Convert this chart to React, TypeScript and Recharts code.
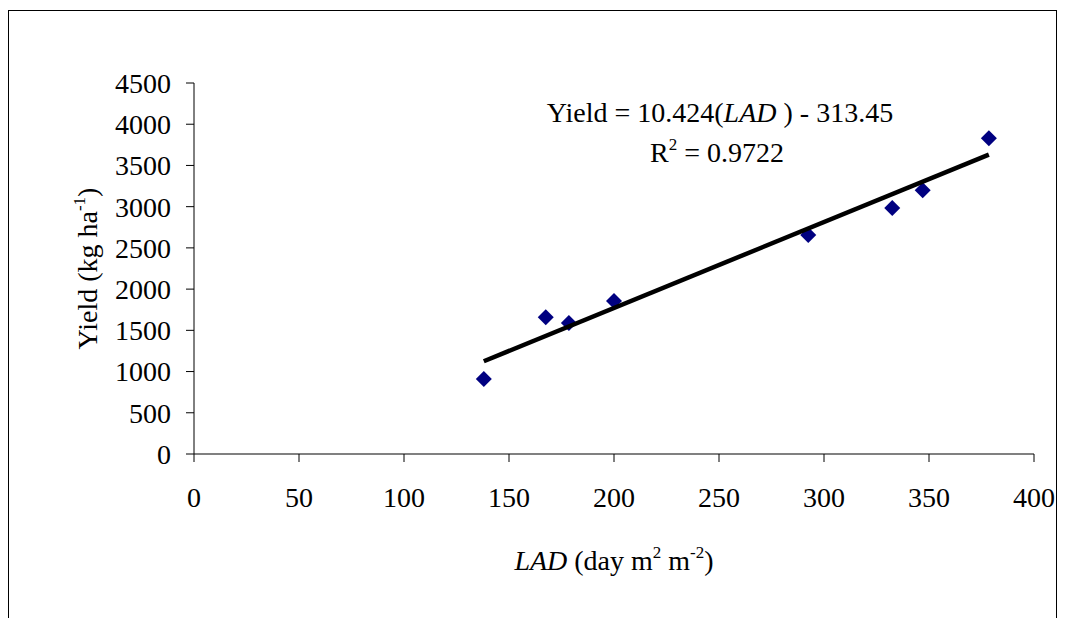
import React from 'react';
import { ScatterChart, Scatter, XAxis, YAxis } from 'recharts';

// LAD (day m2 m-2) vs grain yield (kg/ha)
const lad = [138, 167.5, 178.5, 200, 292.5, 332.5, 347, 378.5];
const yieldKg = [910, 1660, 1590, 1855, 2655, 2985, 3200, 3830];

// fitted trend line end points
const trendLad = [138, 378.5];
const trendYield = [1125, 3632];

const xTicks = [0, 50, 100, 150, 200, 250, 300, 350, 400];
const yTicks = [0, 500, 1000, 1500, 2000, 2500, 3000, 3500, 4000, 4500];

const points = lad.map((x, i) => ({ x, y: yieldKg[i] }));
const trend = trendLad.map((x, i) => ({ x, y: trendYield[i] }));

const FONT = "'Liberation Serif', 'Times New Roman', serif";
const FS = 28;
const SUP = 17;

const Diamond = (props: any) => {
    const { cx, cy } = props;
    const r = 8;
    return (
        <polygon
            points={`${cx},${cy - r} ${cx + r},${cy} ${cx},${cy + r} ${cx - r},${cy}`}
            fill="#000080"
        />
    );
};

const XLabel = (props: any) => {
    const { viewBox } = props;
    const cx = viewBox.x + viewBox.width / 2;
    return (
        <text x={cx} y={viewBox.y + 116} textAnchor="middle" style={{ fontFamily: FONT, fontSize: FS }} fill="#000">
            <tspan fontStyle="italic">LAD</tspan>
            <tspan>{'  (day m'}</tspan>
            <tspan dy={-12} fontSize={SUP}>2</tspan>
            <tspan dy={12}> m</tspan>
            <tspan dy={-12} fontSize={SUP}>-2</tspan>
            <tspan dy={12}>)</tspan>
        </text>
    );
};

const YLabel = (props: any) => {
    const { viewBox } = props;
    const cy = viewBox.y + viewBox.height / 2;
    const cx = 88;
    return (
        <text
            x={cx}
            y={cy}
            textAnchor="middle"
            transform={`rotate(-90, ${cx}, ${cy})`}
            style={{ fontFamily: FONT, fontSize: FS }}
            fill="#000"
        >
            <tspan>Yield (kg ha</tspan>
            <tspan dy={-12} fontSize={SUP}>-1</tspan>
            <tspan dy={12}>)</tspan>
        </text>
    );
};

const App: React.FC = () => {
    return (
        <div
            style={{
                position: 'relative',
                marginTop: 2,
                width: 1049,
                height: 608,
                boxSizing: 'border-box',
                borderTop: '1px solid #000',
                borderLeft: '1px solid #000',
                borderRight: '1px solid #000',
                background: '#fff',
                fontFamily: FONT,
            }}
        >
            <ScatterChart width={1047} height={607} margin={{ top: 72, right: 22, bottom: 104, left: 0 }}>
                <XAxis
                    type="number"
                    dataKey="x"
                    domain={[0, 400]}
                    ticks={xTicks}
                    interval={0}
                    height={60}
                    axisLine={{ stroke: '#808080', strokeWidth: 2 }}
                    tickLine={{ stroke: '#000' }}
                    tickSize={8}
                    tickMargin={25}
                    tick={{ fill: '#000', style: { fontFamily: FONT, fontSize: FS } }}
                    label={<XLabel />}
                />
                <YAxis
                    type="number"
                    dataKey="y"
                    domain={[0, 4500]}
                    ticks={yTicks}
                    interval={0}
                    width={185}
                    axisLine={{ stroke: '#000' }}
                    tickLine={{ stroke: '#000' }}
                    tickSize={8}
                    tickMargin={15}
                    tick={{ fill: '#000', style: { fontFamily: FONT, fontSize: FS } }}
                    label={<YLabel />}
                />
                <Scatter data={points} shape={<Diamond />} isAnimationActive={false} />
                <Scatter
                    data={trend}
                    line={{ stroke: '#000', strokeWidth: 4.5 }}
                    shape={() => <g />}
                    isAnimationActive={false}
                />
            </ScatterChart>
            <svg
                width={1047}
                height={607}
                style={{ position: 'absolute', left: 0, top: 0, pointerEvents: 'none' }}
            >
                <text x={711} y={111} textAnchor="middle" style={{ fontFamily: FONT, fontSize: FS }} fill="#000">
                    <tspan>Yield = 10.424(</tspan>
                    <tspan fontStyle="italic">LAD </tspan>
                    <tspan>) - 313.45</tspan>
                </text>
                <text x={708} y={151} textAnchor="middle" style={{ fontFamily: FONT, fontSize: FS }} fill="#000">
                    <tspan>R</tspan>
                    <tspan dy={-12} fontSize={SUP}>2</tspan>
                    <tspan dy={12}> = 0.9722</tspan>
                </text>
            </svg>
        </div>
    );
};

export default App;
